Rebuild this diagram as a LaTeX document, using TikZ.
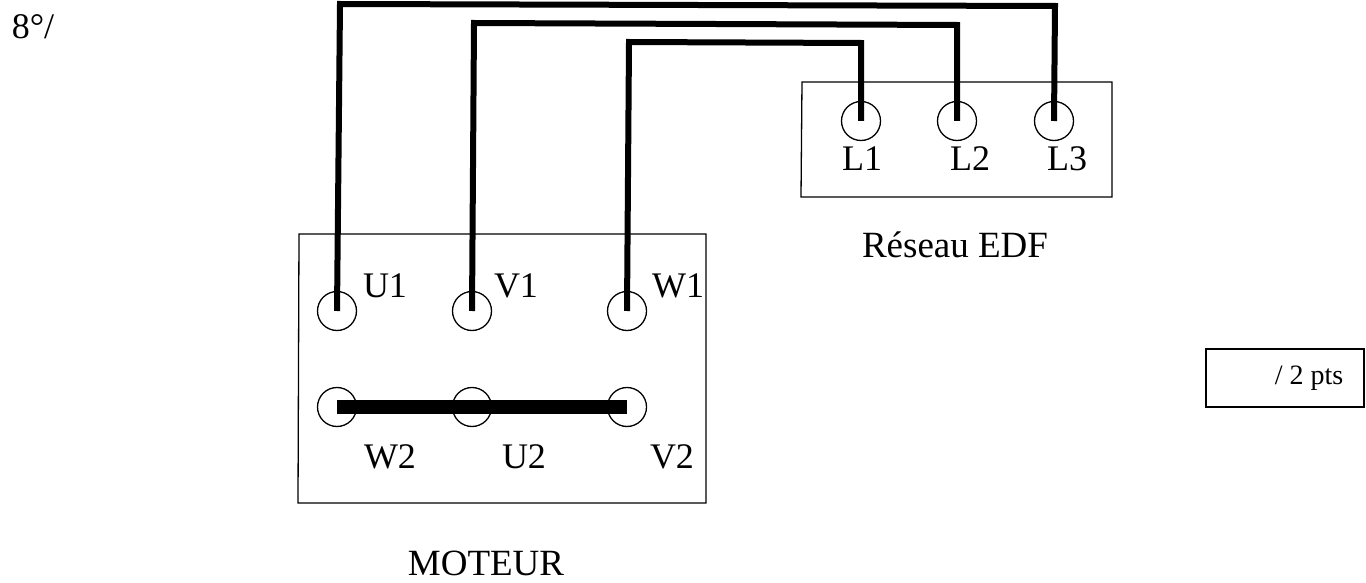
\documentclass[tikz,border=0pt]{standalone}
\usepackage{fontspec}
\setmainfont{Liberation Serif}
\begin{document}
\begin{tikzpicture}[x=1pt,y=-1pt,
  borne/.style={draw,circle,minimum size=39pt,inner sep=0pt,line width=1.3pt},
  cable/.style={line width=6pt},
  boite/.style={draw,line width=1.3pt},
  txt/.style={font=\fontsize{36}{36}\selectfont,inner sep=0pt},
  titre/.style={font=\fontsize{37}{37}\selectfont,inner sep=0pt},
  ]
  \useasboundingbox (0,0) rectangle (1366,583);
  % boites
  \draw[boite] (299,234) -- (706,234) -- (706,503) -- (298,503) -- cycle;
  \draw[boite] (802,82) -- (1112,82) -- (1112,197) -- (801,197) -- cycle;
  \draw[boite] (1206,349) rectangle (1364,407);
  % bornes moteur
  \node[borne] (U1) at (337,311) {};
  \node[borne] (V1) at (472,311) {};
  \node[borne] (W1) at (627,311) {};
  \node[borne] (W2) at (337,407) {};
  \node[borne] (U2) at (472,407) {};
  \node[borne] (V2) at (627,407) {};
  % bornes reseau
  \node[borne] (L1) at (861,121) {};
  \node[borne] (L2) at (957,121) {};
  \node[borne] (L3) at (1054,121) {};
  % cables
  \draw[cable] (U1.center) -- (340,4) -- (1055,6) -- (L3.center);
  \draw[cable] (V1.center) -- (474,23) -- (957,25) -- (L2.center);
  \draw[cable] (W1.center) -- (629,42) -- (861,43) -- (L1.center);
  \draw[line width=14pt] (W2.center) -- (V2.center);
  % textes
  \node[txt] (lU1) at (385,286) {U1};
  \node[txt] (lV1) at (516,286) {V1};
  \node[txt] (lW1) at (678,286) {W1};
  \node[txt] (lW2) at (390,457) {W2};
  \node[txt] (lU2) at (524,457) {U2};
  \node[txt] (lV2) at (672,457) {V2};
  \node[txt] (lL1) at (862,159) {L1};
  \node[txt] (lL2) at (970,159) {L2};
  \node[txt] (lL3) at (1067,159) {L3};
  \node[titre] (edf) at (955,245) {Réseau EDF};
  \node[titre] (mot) at (486,563) {MOTEUR};
  \node[txt] (num) at (33,27) {8°/};
  \node[inner sep=0pt,font=\fontsize{28}{28}\selectfont] (pts) at (1309,378) {/ 2 pts};
\end{tikzpicture}
\end{document}
